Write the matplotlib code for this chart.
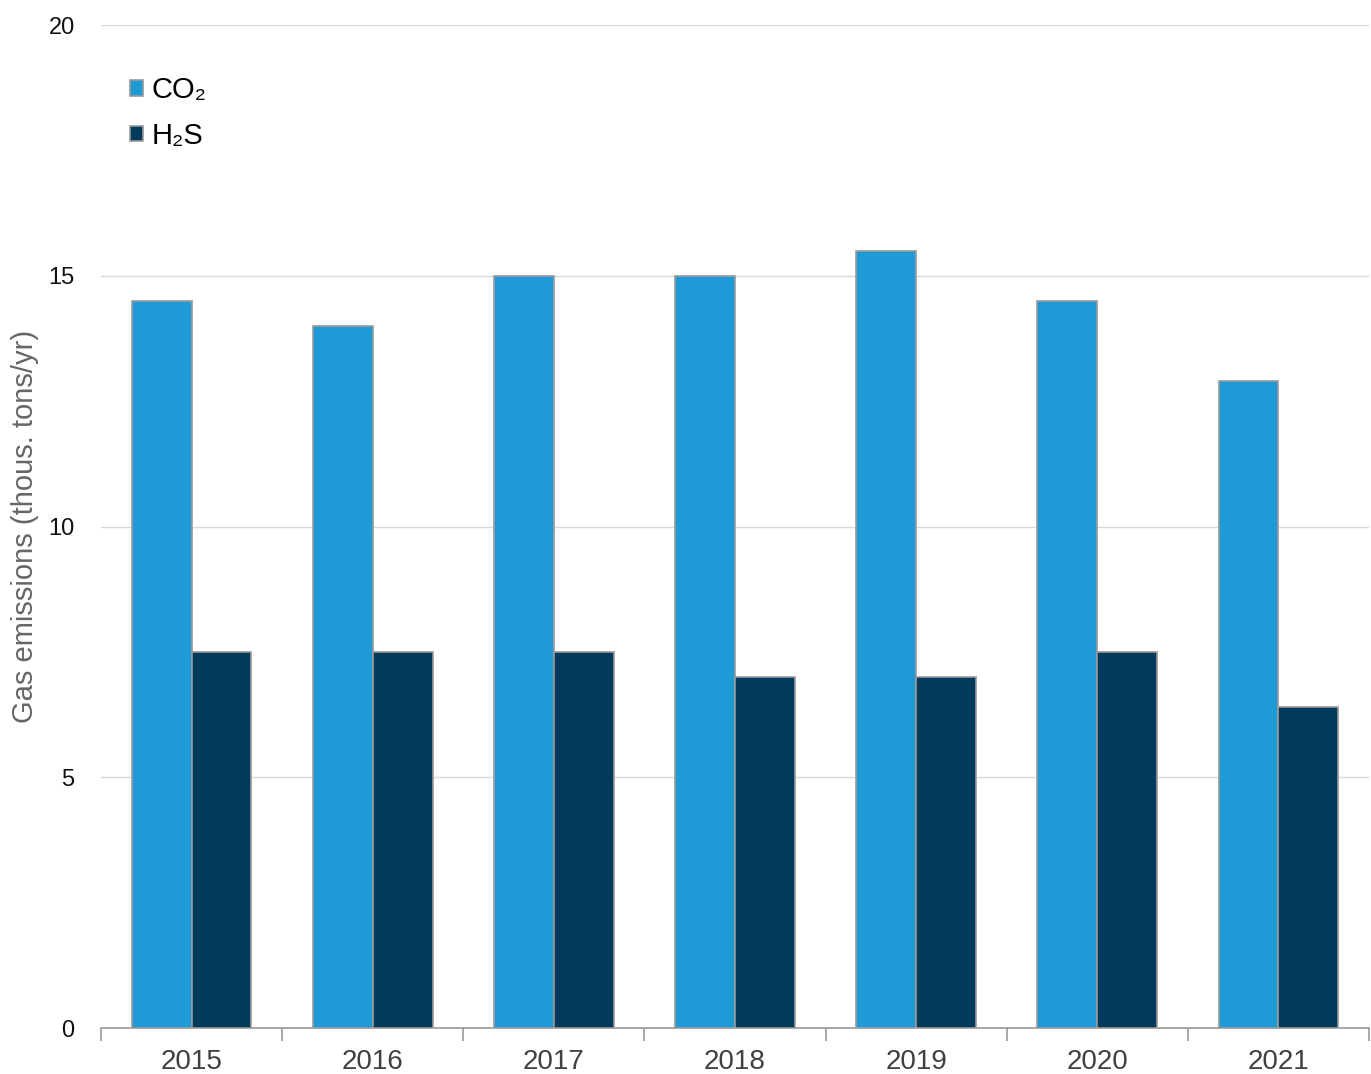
import matplotlib
matplotlib.use("Agg")
import matplotlib.pyplot as plt
import numpy as np

years = ["2015", "2016", "2017", "2018", "2019", "2020", "2021"]
co2 = [14.5, 14.0, 15.0, 15.0, 15.5, 14.5, 12.9]
h2s = [7.5, 7.5, 7.5, 7.0, 7.0, 7.5, 6.4]
series_names = ["CO\u2082", "H\u2082S"]
yticks = [0, 5, 10, 15, 20]

plt.rcParams['font.family'] = ['Liberation Sans', 'DejaVu Sans']

fig = plt.figure(figsize=(13.71, 10.74), dpi=100)
ax = fig.add_axes([0.0737, 0.0428, 0.9248, 0.9339])

x = np.arange(len(years))
w = 0.33
c1 = "#1E9AD6"
c2 = "#023A5C"
ax.bar(x - w / 2, co2, width=w, color=c1, edgecolor="#9a9a9a", linewidth=1.2, label=series_names[0], zorder=3)
ax.bar(x + w / 2, h2s, width=w, color=c2, edgecolor="#9a9a9a", linewidth=1.2, label=series_names[1], zorder=3)

ax.set_xlim(-0.5, len(years) - 0.5)
ax.set_ylim(0, 20)
ax.set_yticks(yticks)
ax.set_yticklabels([str(v) for v in yticks], fontsize=17, color="#111111")
ax.tick_params(axis="y", length=0, pad=19)
ax.yaxis.grid(True, color="#d9d9d9", linewidth=1.0, zorder=0)
ax.set_axisbelow(True)

ax.set_xticks(x)
ax.set_xticklabels(years, fontsize=20, color="#404040")
ax.tick_params(axis="x", length=0, pad=15)
ax.set_xticks(np.arange(-0.5, len(years)), minor=True)
ax.tick_params(axis="x", which="minor", length=9, color="#9a9a9a", width=1.2)

for s in ["top", "right", "left"]:
    ax.spines[s].set_visible(False)
ax.spines["bottom"].set_color("#9a9a9a")
ax.spines["bottom"].set_linewidth(1.2)

ax.set_ylabel("Gas emissions (thous. tons/yr)", fontsize=21, color="#666666")
ax.yaxis.set_label_coords(-0.049, 0.5)

leg = ax.legend(loc="upper left", bbox_to_anchor=(0.002, 0.975), frameon=False, fontsize=21,
                handlelength=0.45, handleheight=0.45, handletextpad=0.3, labelspacing=0.6)
for h in leg.legend_handles:
    h.set_edgecolor("#9a9a9a")

fig.savefig("out.png", dpi=100)
